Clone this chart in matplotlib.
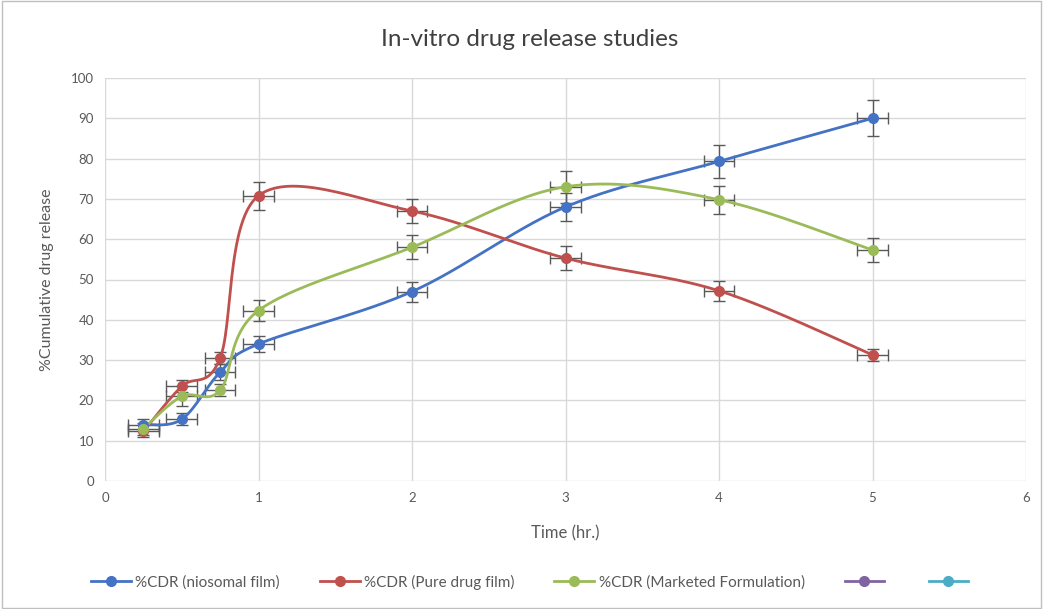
import numpy as np
import matplotlib.pyplot as plt
from matplotlib.lines import Line2D

plt.rcParams['font.family'] = ['Lato', 'DejaVu Sans']

time = [0.25, 0.5, 0.75, 1, 2, 3, 4, 5]
niosomal = [14.0, 15.3, 27.0, 34.0, 47.0, 68.0, 79.3, 90.0]
pure_drug = [12.3, 23.5, 30.5, 70.8, 67.0, 55.3, 47.2, 31.3]
marketed = [13.0, 21.0, 22.5, 42.3, 58.0, 73.0, 69.8, 57.3]
niosomal_err = [1.5, 1.5, 2.0, 2.0, 2.5, 3.5, 4.0, 4.5]
pure_err = [1.5, 1.5, 1.5, 3.5, 3.0, 3.0, 2.5, 1.5]
marketed_err = [1.5, 2.5, 1.5, 2.5, 3.0, 4.0, 3.5, 3.0]
x_err = 0.1

labels = ['%CDR (niosomal film)', '%CDR (Pure drug film)', '%CDR (Marketed Formulation)', '', '']
colors = ['#4472C4', '#C0504D', '#9BBB59', '#8064A2', '#4BACC6']


def smooth(x, y, n=30):
    # Excel-like smoothed line (Catmull-Rom style Bezier)
    x = np.asarray(x, float)
    y = np.asarray(y, float)
    px = np.concatenate([[x[0]], x, [x[-1]]])
    py = np.concatenate([[y[0]], y, [y[-1]]])
    xs, ys = [], []
    t = np.linspace(0, 1, n)
    for i in range(1, len(px) - 2):
        p0 = np.array([px[i], py[i]])
        p3 = np.array([px[i + 1], py[i + 1]])
        c1 = p0 + (np.array([px[i + 1], py[i + 1]]) - np.array([px[i - 1], py[i - 1]])) / 6
        c2 = p3 - (np.array([px[i + 2], py[i + 2]]) - np.array([px[i], py[i]])) / 6
        b = ((1 - t) ** 3)[:, None] * p0 + (3 * (1 - t) ** 2 * t)[:, None] * c1 \
            + (3 * (1 - t) * t ** 2)[:, None] * c2 + (t ** 3)[:, None] * p3
        xs.extend(b[:, 0])
        ys.extend(b[:, 1])
    return xs, ys


fig = plt.figure(figsize=(10.43, 6.09), dpi=100)
ax = fig.add_axes([105 / 1043, 1 - 481 / 609, 921 / 1043, 403 / 609])

series = [niosomal, pure_drug, marketed]
errs = [niosomal_err, pure_err, marketed_err]
for vals, err, c in zip(series, errs, colors):
    sx, sy = smooth(time, vals)
    ax.plot(sx, sy, color=c, lw=2, zorder=3)
    ax.errorbar(time, vals, yerr=err, xerr=x_err, fmt='none', ecolor='#595959',
                elinewidth=1, capsize=4, zorder=2)
    ax.plot(time, vals, 'o', color=c, ms=7, zorder=4)

ax.set_xlim(0, 6)
ax.set_ylim(0, 100)
ax.set_xticks(range(0, 7))
ax.set_yticks(range(0, 101, 10))
ax.grid(True, color='#D9D9D9', lw=1)
ax.set_axisbelow(True)
for s in ax.spines.values():
    s.set_visible(False)
ax.tick_params(length=0, colors='#595959', labelsize=9.5, pad=8)
ax.set_xlabel('Time (hr.)', color='#595959', fontsize=12, labelpad=15)
ax.set_ylabel('%Cumulative drug release', color='#595959', fontsize=11.5, labelpad=12)
fig.text(530 / 1043, 1 - 40 / 609, 'In-vitro drug release studies', color='#404040',
         fontsize=17.5, ha='center', va='center')

handles = [Line2D([], [], color=c, lw=2, marker='o', ms=7) for c in colors]
fig.legend(handles, labels, loc='center', bbox_to_anchor=(532 / 1043, 1 - 582 / 609), ncol=5,
           frameon=False, fontsize=11, labelcolor='#595959', handlelength=2.6,
           handletextpad=0.3, columnspacing=2.6)

fig.patches.append(plt.Rectangle((0.002, 0.002), 0.996, 0.996, transform=fig.transFigure,
                                 fill=False, edgecolor='#BFBFBF', lw=1))
fig.savefig('out.png', dpi=100)
